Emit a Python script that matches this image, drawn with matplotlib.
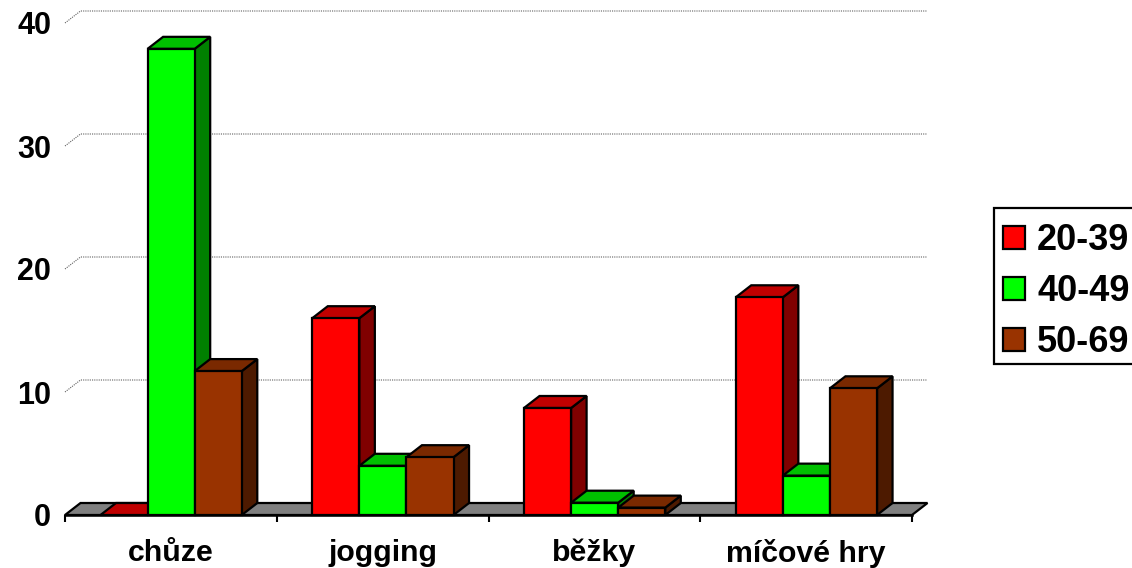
import matplotlib
matplotlib.use("Agg")
import matplotlib.pyplot as plt
from matplotlib.patches import Polygon, Patch, Rectangle

categories = ["chůze", "jogging", "běžky", "míčové hry"]
series_names = ["20-39", "40-49", "50-69"]
values_2039 = [0, 16, 8.7, 17.7]
values_4049 = [37.9, 4, 1, 3.2]
values_5069 = [11.7, 4.7, 0.6, 10.3]
y_ticks = [0, 10, 20, 30, 40]

front_colors = ["#FF0000", "#00FF00", "#993300"]
top_colors = ["#C00000", "#00C000", "#7A2900"]
side_colors = ["#800000", "#008000", "#4D1A00"]

W, H = 1132, 568
plt.rcParams["font.family"] = ["Liberation Sans", "DejaVu Sans"]
plt.rcParams["font.weight"] = "bold"
fig = plt.figure(figsize=(W / 100, H / 100), dpi=100)
ax = fig.add_axes([65 / W, 1 - 515 / H, 847 / W, 492 / H])
ax.set_xlim(0, 4)
ax.set_ylim(0, 40)

DX = 15.5 / (847 / 4)
DY = 12 / (492 / 40)
BAR_W = 47.1 / (847 / 4)
BAR_START = 35.5 / (847 / 4)
EDGE = 1.6


def poly(points, color, z, lw=EDGE, ec="black"):
    ax.add_patch(Polygon(points, closed=True, facecolor=color, edgecolor=ec,
                         linewidth=lw, joinstyle="miter", clip_on=False, zorder=z))


# gridlines on the back and left walls
for v in y_ticks[1:]:
    ax.plot([0, DX, 4 + DX], [v, v + DY, v + DY], color="#606060", lw=0.8,
            ls=(0, (1, 1)), clip_on=False, zorder=1)

# floor
poly([(0, 0), (DX, DY), (4 + DX, DY), (4, 0)], "#808080", 2)

# bars, back-to-front by drawing left to right
z = 3
for i in range(len(categories)):
    for s, vals in enumerate([values_2039, values_4049, values_5069]):
        x0 = i + BAR_START + s * BAR_W
        x1 = x0 + BAR_W
        v = vals[i]
        if v > 0:
            poly([(x1, 0), (x1 + DX, DY), (x1 + DX, v + DY), (x1, v)], side_colors[s], z)
        poly([(x0, v), (x0 + DX, v + DY), (x1 + DX, v + DY), (x1, v)], top_colors[s], z + 0.1)
        if v > 0:
            poly([(x0, 0), (x1, 0), (x1, v), (x0, v)], front_colors[s], z + 0.2)
        z += 1

for sp in ["top", "right", "left"]:
    ax.spines[sp].set_visible(False)
ax.spines["bottom"].set_linewidth(1.8)
ax.spines["bottom"].set_zorder(100)
ax.patch.set_alpha(0)

ax.set_xticks(range(5))
ax.set_xticklabels([])
ax.tick_params(axis="x", which="major", length=5, width=1.5, color="black")
ax.set_xticks([i + 0.5 for i in range(4)], minor=True)
ax.set_xticklabels(categories, minor=True, fontsize=21.8, fontweight="bold")
ax.tick_params(axis="x", which="minor", length=0, pad=17)
ax.set_yticks(y_ticks)
ax.set_yticklabels([str(v) for v in y_ticks], fontsize=22, fontweight="bold")
ax.tick_params(axis="y", length=0, pad=10)

# legend box runs off the right edge of the canvas, as in the reference
fig.add_artist(Rectangle((994 / W, 1 - 364 / H), 150 / W, 156 / H, transform=fig.transFigure,
                         facecolor="white", edgecolor="black", linewidth=1.6, zorder=5))
handles = [Patch(facecolor=c, edgecolor="black", linewidth=1.6) for c in front_colors]
leg = fig.legend(handles, series_names, loc="upper left",
                 bbox_to_anchor=(993 / W, 1 - 213 / H), bbox_transform=fig.transFigure,
                 prop={"size": 26, "weight": "bold"}, frameon=False,
                 borderaxespad=0, borderpad=0.28,
                 handlelength=0.61, handleheight=0.61, handletextpad=0.33, labelspacing=0.44)
leg.set_zorder(6)

fig.savefig("out.png", dpi=100)
